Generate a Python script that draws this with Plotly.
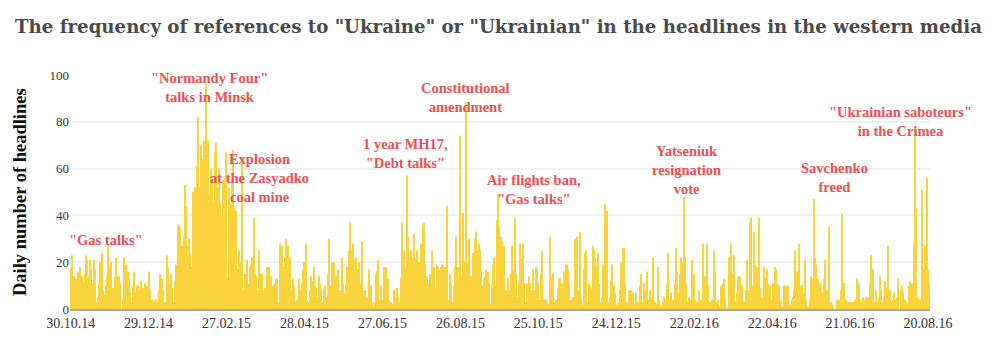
import pandas as pd
import plotly.graph_objects as go

# Daily counts of western-media headlines mentioning "Ukraine"/"Ukrainian",
# starting 30.10.2014, one value per day, split into consecutive blocks.
counts_oct14_dec14 = [18, 23, 9, 14, 13, 12, 16, 18, 7, 14, 12, 15, 23, 21, 14, 21, 17, 11, 21, 17,
                      3, 5, 11, 20, 24, 8, 6, 10, 14, 27, 18, 20, 8, 9, 14, 22, 14, 14, 11, 0,
                      4, 22, 4, 19, 16, 13, 7, 3, 10, 16, 7, 10, 10, 8, 12, 6, 9, 11]
counts_dec14_feb15 = [8, 10, 16, 8, 3, 4, 3, 4, 4, 3, 8, 15, 13, 8, 2, 3, 23, 18, 11, 15,
                      9, 3, 12, 19, 18, 36, 35, 25, 27, 31, 53, 44, 27, 30, 24, 18, 50, 40, 52, 61,
                      82, 52, 70, 64, 49, 72, 96, 72, 72, 49, 60, 55, 46, 67, 71, 52, 60, 45, 40, 55,
                      50, 56]
counts_feb15_apr15 = [67, 13, 52, 45, 55, 68, 44, 42, 10, 17, 25, 20, 65, 8, 15, 4, 21, 11, 18, 19,
                      22, 39, 15, 14, 8, 25, 15, 15, 4, 8, 9, 18, 18, 18, 14, 6, 10, 11, 13, 13,
                      3, 28, 17, 27, 18, 22, 30, 27, 20, 22, 8, 13, 10, 3, 4, 2, 13, 8, 11, 17,
                      20]
counts_apr15_jun15 = [28, 4, 3, 8, 14, 12, 18, 10, 9, 5, 14, 11, 8, 3, 8, 10, 5, 15, 30, 10,
                      20, 11, 20, 14, 8, 17, 8, 4, 22, 11, 7, 11, 18, 25, 37, 25, 28, 11, 21, 22,
                      17, 20, 11, 29, 8, 0, 8, 5, 3, 17, 10, 3, 1, 3, 15, 16, 21, 4, 10, 4,
                      18, 13]
counts_jul15_aug15 = [18, 13, 4, 1, 3, 2, 8, 5, 9, 5, 3, 13, 37, 23, 25, 18, 57, 31, 22, 25,
                      22, 32, 22, 18, 25, 20, 16, 28, 36, 37, 19, 14, 4, 11, 15, 25, 13, 18, 9, 19,
                      18, 17, 18, 19, 19, 18, 4, 44, 4, 15, 11, 3, 10, 18, 31, 18, 5, 74, 14, 41,
                      20]
counts_aug15_oct15 = [88, 19, 20, 30, 14, 10, 24, 30, 33, 25, 28, 25, 17, 10, 13, 14, 17, 16, 11, 2,
                      10, 19, 22, 10, 38, 49, 35, 31, 29, 14, 27, 8, 5, 13, 8, 15, 27, 17, 39, 15,
                      5, 11, 28, 22, 28, 11, 3, 11, 4, 14, 11, 8, 17, 8, 18, 17, 11, 4, 15, 25,
                      4, 4]
counts_nov15_dec15 = [4, 3, 2, 31, 13, 15, 3, 1, 4, 9, 13, 13, 11, 8, 16, 19, 19, 17, 11, 4,
                      4, 5, 30, 12, 31, 8, 33, 4, 2, 17, 24, 25, 3, 11, 10, 8, 27, 25, 22, 19,
                      24, 11, 3, 5, 19, 45, 27, 42, 3, 5, 12, 19, 10, 7, 2, 2, 3, 8, 20, 26,
                      26]
counts_jan16_feb16 = [11, 3, 2, 8, 8, 5, 7, 2, 7, 3, 3, 10, 15, 3, 11, 3, 8, 16, 4, 8,
                      5, 22, 4, 3, 2, 18, 4, 2, 1, 3, 5, 4, 11, 24, 4, 7, 3, 4, 11, 26,
                      16, 7, 15, 22, 20, 48, 22, 11, 3, 5, 4, 21, 8, 15, 4, 3, 2, 8, 4, 3,
                      28, 14]
counts_mar16_apr16 = [11, 28, 10, 3, 1, 4, 25, 16, 3, 4, 1, 0, 10, 11, 13, 5, 0, 1, 22, 28,
                      15, 10, 23, 3, 7, 14, 14, 4, 10, 3, 0, 8, 21, 8, 37, 39, 10, 33, 19, 18,
                      8, 39, 9, 5, 1, 18, 13, 17, 11, 10, 4, 1, 11, 18, 17, 11, 10, 4, 3, 1,
                      10]
counts_may16_jun16 = [3, 10, 10, 1, 2, 4, 5, 8, 25, 16, 16, 28, 10, 10, 7, 21, 4, 0, 1, 4,
                      14, 13, 47, 22, 19, 13, 10, 11, 10, 7, 13, 21, 8, 4, 35, 3, 2, 1, 0, 0,
                      4, 4, 4, 8, 41, 11, 3, 4, 3, 3, 2, 3, 3, 1, 4, 13, 10, 11, 4, 3,
                      5, 4]
counts_jul16_aug16 = [5, 3, 5, 11, 23, 15, 17, 3, 8, 3, 5, 14, 8, 3, 5, 12, 9, 27, 8, 8,
                      3, 4, 7, 4, 5, 13, 0, 8, 10, 7, 4, 3, 2, 10, 12, 3, 11, 28, 78, 43,
                      5, 3, 4, 51, 10, 17, 27, 56, 17, 11]

counts = (counts_oct14_dec14 + counts_dec14_feb15 + counts_feb15_apr15 + counts_apr15_jun15
          + counts_jul15_aug15 + counts_aug15_oct15 + counts_nov15_dec15 + counts_jan16_feb16
          + counts_mar16_apr16 + counts_may16_jun16 + counts_jul16_aug16)
dates = pd.date_range("2014-10-30", periods=len(counts), freq="D")

# Event labels: text, date, height on the value axis
event_texts = ['"Gas talks"', '"Normandy Four"<br>talks in Minsk', 'Explosion<br>at the Zasyadko<br>coal mine',
               '1 year MH17,<br>"Debt talks"', 'Constitutional<br>amendment', 'Air flights ban,<br>"Gas talks"',
               'Yatseniuk<br>resignation<br>vote', 'Savchenko<br>freed', '"Ukrainian saboteurs"<br>in the Crimea']
event_dates = ["2014-11-26", "2015-02-14", "2015-03-24", "2015-07-15", "2015-08-30",
               "2015-10-22", "2016-02-16", "2016-06-09", "2016-07-30"]
event_heights = [29.5, 94.5, 56, 66.5, 90.3, 51, 59.5, 56, 80]

SERIF = "Liberation Serif"
RED = "#f04e50"

fig = go.Figure()
fig.add_trace(go.Bar(
    x=dates, y=counts,
    marker=dict(color="#f8d33c", line=dict(width=0)),
    hovertemplate="%{x|%d.%m.%y}: %{y}<extra></extra>",
))

for txt, d, h in zip(event_texts, event_dates, event_heights):
    fig.add_annotation(x=d, y=h, xref="x", yref="y", text=txt, showarrow=False,
                       xanchor="center", yanchor="middle", align="center",
                       font=dict(family=SERIF, size=14.5, color=RED, weight="bold"))

# Rotated value-axis title
fig.add_annotation(x=-0.058, y=0.5, xref="paper", yref="paper", text="Daily number of headlines",
                   textangle=-90, showarrow=False, xanchor="center", yanchor="middle",
                   font=dict(family=SERIF, size=18.5, color="#111111", weight="bold"))

fig.update_layout(
    width=1000, height=347,
    margin=dict(l=70, r=70, t=75, b=38),
    paper_bgcolor="white", plot_bgcolor="white",
    bargap=0.15, showlegend=False,
    title=dict(text='The frequency of references to "Ukraine" or "Ukrainian" in the headlines in the western media',
               xref="container", x=0.015, xanchor="left", y=0.922, yanchor="middle",
               font=dict(family="DejaVu Serif", size=18.2, color="#4a4a4a", weight="bold")),
    xaxis=dict(type="date", range=["2014-10-29 12:00", "2016-08-21 12:00"],
               tick0="2014-10-30", dtick=60 * 86400000, tickformat="%d.%m.%y",
               showgrid=False, showline=True, linecolor="#a8a8a8", linewidth=2,
               ticks="", tickfont=dict(family=SERIF, size=14, color="#333333")),
    yaxis=dict(range=[0, 100], dtick=20, showgrid=True, gridcolor="#f0f0f0", gridwidth=2,
               zeroline=False, ticks="", tickfont=dict(family=SERIF, size=13, color="#333333")),
)

fig.write_html("out.html")
